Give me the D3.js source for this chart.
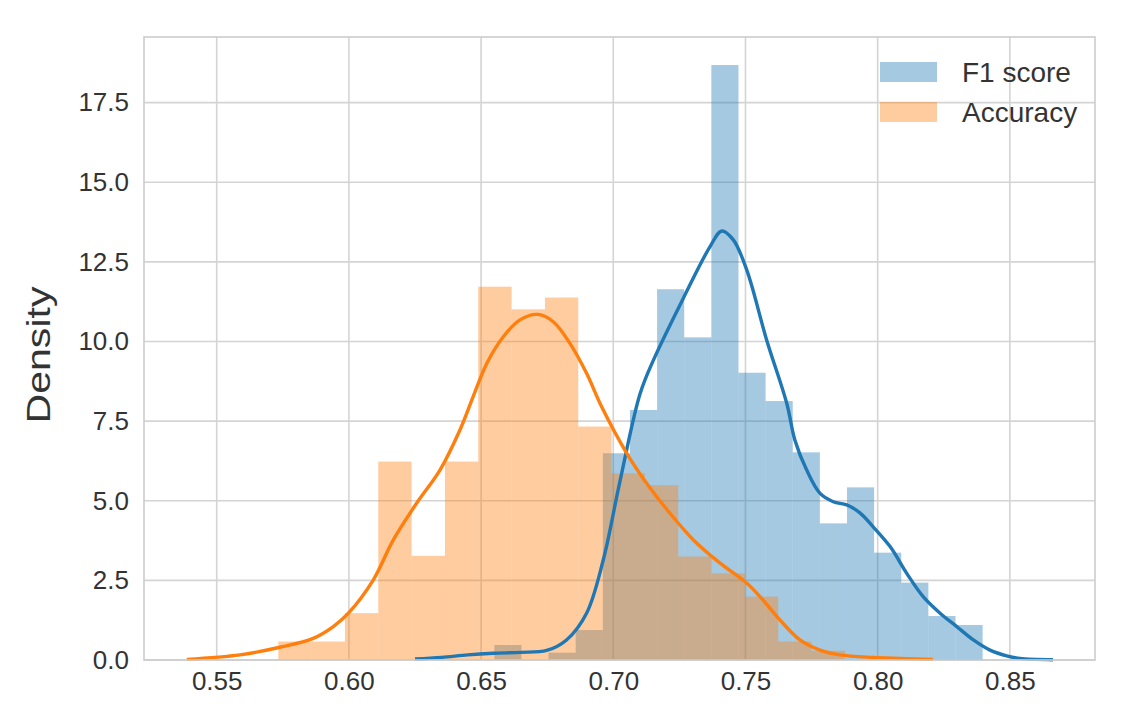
<!DOCTYPE html>
<meta charset="utf-8">
<style>
    body {
        margin: 0;
        background-color: #ffffff;
    }
    text {
        font-family: "Liberation Sans", Arial, sans-serif;
        fill: #333333;
    }
    .grid line {
        stroke: #d4d4d4;
        stroke-width: 1.6px;
    }
    .kde {
        fill: none;
        stroke-width: 3.4px;
    }
</style>
<svg width="1136" height="712"></svg>
<script src="https://cdn.jsdelivr.net/npm/d3@7"></script>
<script>
    // tick labels
    var xTicks = [0.55, 0.60, 0.65, 0.70, 0.75, 0.80, 0.85];
    var yTicks = [0, 2.5, 5, 7.5, 10, 12.5, 15, 17.5];

    var seriesNames = ["F1 score", "Accuracy"];

    // histogram bins (density)
    var f1BinStart = 0.6550, f1BinWidth = 0.010261;
    var f1Density = [0.47, 0, 0.23, 0.94, 6.49, 7.85, 11.64, 10.13, 18.68,
                     9.02, 8.13, 6.52, 4.29, 5.42, 3.37, 2.43, 1.38, 1.10];

    var accBinStart = 0.5733, accBinWidth = 0.012606;
    var accDensity = [0.58, 0.58, 1.47, 6.23, 3.27, 6.23, 11.72, 11.01, 11.38,
                      7.33, 5.86, 5.49, 3.25, 2.72, 1.99, 0.58, 0.29];

    // kde curves
    var f1KdeX = [0.6250, 0.6350, 0.6450, 0.6546, 0.6650, 0.6748, 0.6823, 0.6899, 0.6962,
                  0.7025, 0.7101, 0.7151, 0.7265, 0.7366, 0.7410, 0.7454, 0.7505, 0.7580,
                  0.7656, 0.7687, 0.7731, 0.7782, 0.7832, 0.7883, 0.7933, 0.7983, 0.8047,
                  0.8110, 0.8172, 0.8236, 0.8299, 0.8362, 0.8425, 0.8488, 0.8538, 0.8663];
    var f1KdeY = [0.03, 0.08, 0.16, 0.21, 0.24, 0.30, 0.63, 1.47, 3.14,
                  5.60, 8.35, 9.40, 11.36, 12.98, 13.47, 13.19, 12.24, 10.05,
                  8.06, 6.90, 5.97, 5.23, 4.97, 4.87, 4.62, 4.18, 3.56,
                  2.72, 1.99, 1.47, 1.05, 0.63, 0.31, 0.13, 0.05, 0.01];

    var accKdeX = [0.5387, 0.5588, 0.5739, 0.5865, 0.5941, 0.5998, 0.6092, 0.6168, 0.6256,
                   0.6345, 0.6420, 0.6522, 0.6584, 0.6647, 0.6716, 0.6773, 0.6836, 0.6899,
                   0.6956, 0.7051, 0.7126, 0.7214, 0.7303, 0.7404, 0.7505, 0.7555, 0.7630,
                   0.7706, 0.7782, 0.7857, 0.7983, 0.8084, 0.8209];
    var accKdeY = [0.02, 0.16, 0.40, 0.68, 1.05, 1.47, 2.51, 3.77, 4.92,
                   5.97, 7.22, 9.32, 10.15, 10.68, 10.85, 10.62, 9.94, 9.00,
                   7.95, 6.49, 5.55, 4.61, 3.77, 3.04, 2.41, 1.99, 1.26,
                   0.63, 0.31, 0.16, 0.08, 0.05, 0.02];

    var svg = d3.select("svg"),
        margin = {top: 37, right: 41, bottom: 52, left: 144},
        width = +svg.attr("width") - margin.left - margin.right,
        height = +svg.attr("height") - margin.top - margin.bottom;

    var blue = "#1f77b4", orange = "#ff7f0e";

    var x = d3.scaleLinear().domain([0.5225, 0.8822]).range([0, width]);
    var y = d3.scaleLinear().domain([0, 19.56]).range([height, 0]);

    var g = svg.append("g")
        .attr("transform", "translate(" + margin.left + "," + margin.top + ")");

    // grid
    g.append("g").attr("class", "grid")
        .selectAll("line").data(xTicks).enter().append("line")
        .attr("x1", function(d) { return x(d); }).attr("x2", function(d) { return x(d); })
        .attr("y1", 0).attr("y2", height);
    g.append("g").attr("class", "grid")
        .selectAll("line").data(yTicks).enter().append("line")
        .attr("x1", 0).attr("x2", width)
        .attr("y1", function(d) { return y(d); }).attr("y2", function(d) { return y(d); });

    function bins(start, w, dens) {
        return dens.map(function(v, i) { return {x0: start + i * w, x1: start + (i + 1) * w, v: v}; })
            .filter(function(d) { return d.v > 0; });
    }

    function drawHist(data, color) {
        g.append("g").selectAll("rect")
            .data(data)
            .enter().append("rect")
            .attr("x", function(d) { return x(d.x0); })
            .attr("width", function(d) { return x(d.x1) - x(d.x0); })
            .attr("y", function(d) { return y(d.v); })
            .attr("height", function(d) { return y(0) - y(d.v); })
            .attr("fill", color)
            .attr("fill-opacity", 0.4);
    }

    var line = d3.line()
        .x(function(d) { return x(d[0]); })
        .y(function(d) { return y(d[1]); })
        .curve(d3.curveCatmullRom.alpha(0.5));

    // bars below, lines on top (like matplotlib zorder)
    drawHist(bins(f1BinStart, f1BinWidth, f1Density), blue);
    drawHist(bins(accBinStart, accBinWidth, accDensity), orange);

    g.append("path").attr("class", "kde").attr("stroke", blue)
        .attr("d", line(d3.zip(f1KdeX, f1KdeY)));
    g.append("path").attr("class", "kde").attr("stroke", orange)
        .attr("d", line(d3.zip(accKdeX, accKdeY)));

    // frame
    g.append("rect")
        .attr("width", width).attr("height", height)
        .attr("fill", "none").attr("stroke", "#cccccc").attr("stroke-width", 1.6);

    // axes
    var xAxis = g.append("g")
        .attr("transform", "translate(0," + height + ")")
        .call(d3.axisBottom(x).tickValues(xTicks).tickFormat(d3.format(".2f")).tickSize(0).tickPadding(12));
    var yAxis = g.append("g")
        .call(d3.axisLeft(y).tickValues(yTicks).tickFormat(d3.format(".1f")).tickSize(0).tickPadding(15));
    [xAxis, yAxis].forEach(function(a) {
        a.select(".domain").remove();
        a.selectAll("text").attr("fill", "#3a3a3a").style("font-size", "26px")
            .style("font-family", "'Liberation Sans', Arial, sans-serif");
    });

    svg.append("text")
        .attr("transform", "translate(50,355) rotate(-90)")
        .attr("text-anchor", "middle")
        .attr("textLength", 137)
        .attr("lengthAdjust", "spacingAndGlyphs")
        .style("font-size", "34px")
        .text("Density");

    // legend
    var legend = svg.append("g").attr("transform", "translate(880,62)");
    [blue, orange].forEach(function(c, i) {
        legend.append("rect")
            .attr("x", 0).attr("y", i * 40)
            .attr("width", 57).attr("height", 20)
            .attr("fill", c).attr("fill-opacity", 0.4);
        legend.append("text")
            .attr("x", 82).attr("y", i * 40 + 20)
            .style("font-size", "28px")
            .text(seriesNames[i]);
    });
</script>
